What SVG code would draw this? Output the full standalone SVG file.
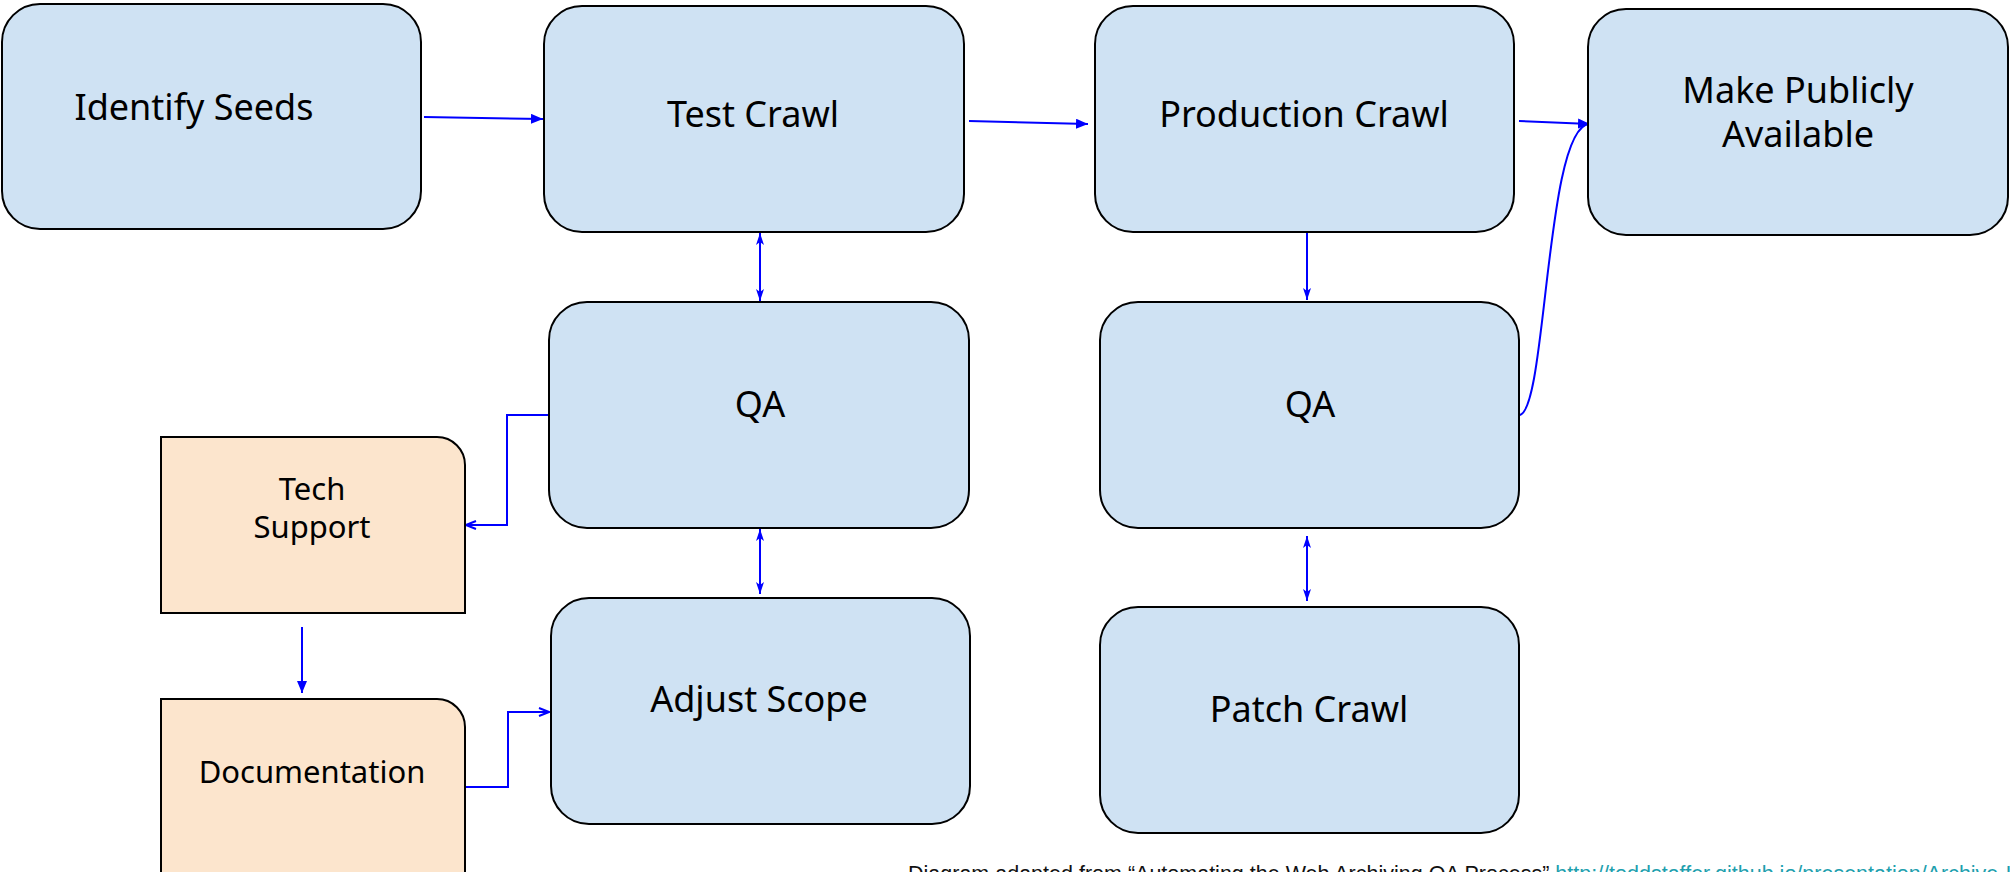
<svg xmlns="http://www.w3.org/2000/svg" width="2010" height="872" viewBox="0 0 2010 872">
  <style>
    .blue { fill: #cfe2f3; stroke: #000; stroke-width: 2; }
    .tan { fill: #fce5cd; stroke: #000; stroke-width: 2; }
    .lbl { font-family: "Noto Sans", "Open Sans", sans-serif; font-size: 36px; fill: #000; text-anchor: middle; }
    .small { font-size: 31px; }
    .wire { fill: none; stroke: #0000ff; stroke-width: 2; }
    .note { font-family: "Liberation Sans", Arial, sans-serif; font-size: 21.5px; fill: #111; }
    .link { fill: #1e9fae; }
  </style>
  <defs>
    <marker id="tri" viewBox="0 0 12 10" refX="12" refY="5" markerWidth="12" markerHeight="10" markerUnits="userSpaceOnUse" orient="auto-start-reverse">
      <path d="M0,0 L12,5 L0,10 Z" fill="#0000ff"/>
    </marker>
    <marker id="thin" viewBox="0 0 12 8" refX="12" refY="4" markerWidth="12" markerHeight="8" markerUnits="userSpaceOnUse" orient="auto-start-reverse">
      <path d="M0,0 L12,4 L0,8 L3,4 Z" fill="#0000ff"/>
    </marker>
    <marker id="open" viewBox="0 0 12 10" refX="11" refY="5" markerWidth="12" markerHeight="10" markerUnits="userSpaceOnUse" orient="auto-start-reverse">
      <path d="M1,1 L11,5 L1,9" fill="none" stroke="#0000ff" stroke-width="2"/>
    </marker>
  </defs>

  <g id="connectors">
    <path class="wire" d="M424,117 L543,119" marker-end="url(#tri)"/>
    <path class="wire" d="M969,121 L1088,124" marker-end="url(#tri)"/>
    <path class="wire" d="M1519,121 L1590,124" marker-end="url(#tri)"/>
    <path class="wire" d="M1519,415 C1547,415 1545,124 1590,124"/>
    <path class="wire" d="M760,233 L760,301" marker-start="url(#thin)" marker-end="url(#thin)"/>
    <path class="wire" d="M760,529 L760,594" marker-start="url(#thin)" marker-end="url(#thin)"/>
    <path class="wire" d="M1307,232 L1307,300" marker-end="url(#thin)"/>
    <path class="wire" d="M1307,536 L1307,601" marker-start="url(#thin)" marker-end="url(#thin)"/>
    <path class="wire" d="M549,415 H507 V525 H466" marker-end="url(#open)"/>
    <path class="wire" d="M302,627 V693" marker-end="url(#tri)"/>
    <path class="wire" d="M464,787 H508 V712 H549" marker-end="url(#open)"/>
  </g>

  <g id="identify-seeds">
    <rect class="blue" x="2" y="4" width="419" height="225" rx="38"/>
    <text class="lbl" x="194" y="120">Identify Seeds</text>
  </g>
  <g id="test-crawl">
    <rect class="blue" x="544" y="6" width="420" height="226" rx="38"/>
    <text class="lbl" x="753" y="127">Test Crawl</text>
  </g>
  <g id="production-crawl">
    <rect class="blue" x="1095" y="6" width="419" height="226" rx="38"/>
    <text class="lbl" x="1304" y="127">Production Crawl</text>
  </g>
  <g id="make-public">
    <rect class="blue" x="1588" y="9" width="420" height="226" rx="38"/>
    <text class="lbl" x="1798" y="103">Make Publicly<tspan x="1798" dy="44">Available</tspan></text>
  </g>
  <g id="qa-test">
    <rect class="blue" x="549" y="302" width="420" height="226" rx="38"/>
    <text class="lbl" x="760" y="417">QA</text>
  </g>
  <g id="qa-production">
    <rect class="blue" x="1100" y="302" width="419" height="226" rx="38"/>
    <text class="lbl" x="1310" y="417">QA</text>
  </g>
  <g id="tech-support">
    <path class="tan" d="M161,437 H437 A28,28 0 0 1 465,465 V613 H161 Z"/>
    <text class="lbl small" x="312" y="500">Tech<tspan x="312" dy="38">Support</tspan></text>
  </g>
  <g id="documentation">
    <path class="tan" d="M161,699 H437 A28,28 0 0 1 465,727 V880 H161 Z"/>
    <text class="lbl small" x="312" y="783">Documentation</text>
  </g>
  <g id="adjust-scope">
    <rect class="blue" x="551" y="598" width="419" height="226" rx="38"/>
    <text class="lbl" x="759" y="712">Adjust Scope</text>
  </g>
  <g id="patch-crawl">
    <rect class="blue" x="1100" y="607" width="419" height="226" rx="38"/>
    <text class="lbl" x="1309" y="722">Patch Crawl</text>
  </g>

  <text class="note" x="908" y="881">Diagram adapted from “Automating the Web Archiving QA Process” <tspan class="link">http://toddstaffer.github.io/presentation/Archive-It</tspan></text>
</svg>
